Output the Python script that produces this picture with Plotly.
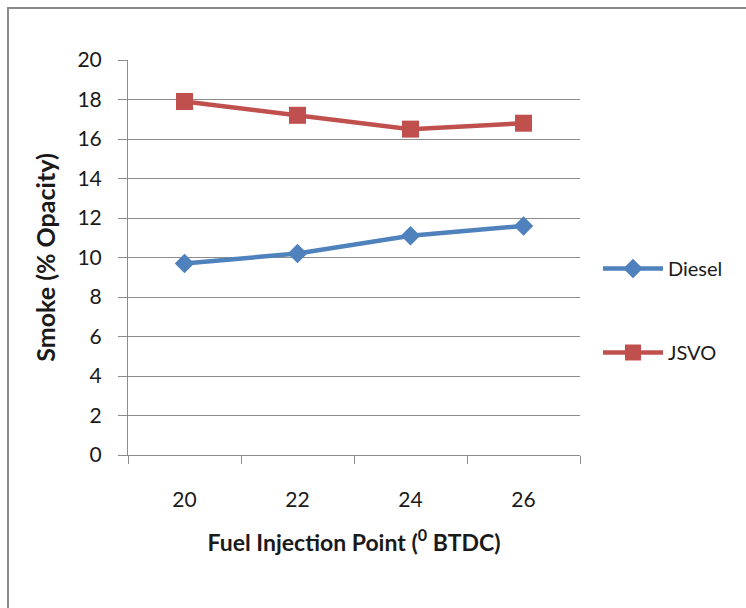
import plotly.graph_objects as go

categories = ["20", "22", "24", "26"]
diesel = [9.7, 10.2, 11.1, 11.6]
jsvo = [17.9, 17.2, 16.5, 16.8]
y_ticks = [0, 2, 4, 6, 8, 10, 12, 14, 16, 18, 20]

W, H = 746, 608
L, R, T, B = 128, 166, 60, 153
pw, ph = W - L - R, H - T - B

def px_x(x):
    return (x - L) / pw

def px_y(y):
    return (H - B - y) / ph

FONT = "Lato"
TXT = "#1a1a1a"
GRID = "#8c8c8c"

fig = go.Figure()
fig.add_trace(go.Scatter(
    x=categories, y=diesel, name="Diesel", mode="lines+markers",
    line=dict(color="#4F81BD", width=4.5),
    marker=dict(symbol="diamond", size=15, color="#4F81BD"),
    legendgroup="a",
))
fig.add_trace(go.Scatter(
    x=categories, y=jsvo, name="JSVO", mode="lines+markers",
    line=dict(color="#C0504D", width=4.5),
    marker=dict(symbol="square", size=17, color="#C0504D"),
    legendgroup="b",
))

fig.update_layout(
    width=W, height=H,
    margin=dict(l=L, r=R, t=T, b=B, autoexpand=False),
    paper_bgcolor="white", plot_bgcolor="white",
    font=dict(family=FONT, color=TXT, size=20),
    showlegend=True,
    legend=dict(
        x=px_x(598), y=px_y(249), xanchor="left", yanchor="top",
        font=dict(size=20, family=FONT, color=TXT),
        tracegroupgap=55, itemwidth=60, bgcolor="rgba(0,0,0,0)",
    ),
    xaxis=dict(
        type="category", categoryorder="array", categoryarray=categories,
        range=[-0.5, 3.5], tickson="boundaries", ticks="outside", ticklen=8,
        tickcolor=GRID, showline=True, linecolor=GRID, linewidth=1,
        showgrid=False, zeroline=False, ticklabelstandoff=26,
        tickfont=dict(size=21, family=FONT, color=TXT),
        title=dict(text="<b>Fuel Injection Point (<sup>0</sup> BTDC)</b>",
                   font=dict(size=23, family=FONT, color=TXT), standoff=24),
    ),
    yaxis=dict(
        range=[0, 20], tickvals=y_ticks, ticks="outside", ticklen=9,
        tickcolor=GRID, showline=True, linecolor=GRID, linewidth=1,
        showgrid=True, gridcolor=GRID, gridwidth=1, zeroline=False,
        ticklabelstandoff=12,
        tickfont=dict(size=21, family=FONT, color=TXT),
        title=dict(text="<b>Smoke (% Opacity)</b>",
                   font=dict(size=25, family=FONT, color=TXT), standoff=14),
    ),
    shapes=[dict(
        type="rect", xref="paper", yref="paper",
        x0=px_x(8), x1=px_x(780), y0=px_y(640), y1=px_y(8),
        line=dict(color="#8a8a8a", width=2), fillcolor="rgba(0,0,0,0)", layer="below",
    )],
)

fig.write_html("out.html")
